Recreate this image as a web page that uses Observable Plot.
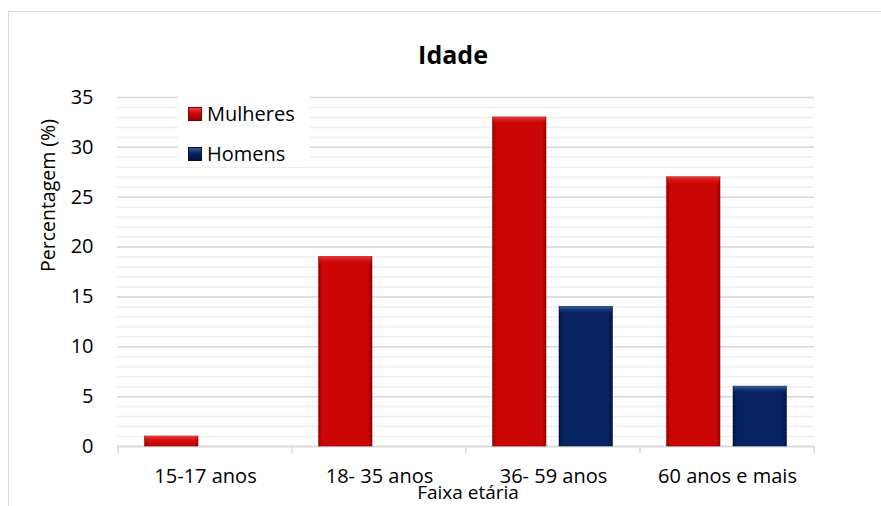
<!DOCTYPE html>
<html>
<head>
<meta charset="utf-8">
<script src="https://cdn.jsdelivr.net/npm/d3@7"></script>
<script src="https://cdn.jsdelivr.net/npm/@observablehq/plot@0.6"></script>
<style>
  html, body { margin: 0; padding: 0; background: #fff; }
  body { width: 881px; height: 506px; overflow: hidden; position: relative; font-family: "Open Sans", sans-serif; }
  #frame { position: absolute; left: 8px; top: 11px; width: 1000px; height: 1000px; border: 1.5px solid #d9d9d9; box-sizing: border-box; }
  #chart { position: absolute; left: 0; top: 0; }
  #legend { position: absolute; left: 178px; top: 94px; width: 132px; height: 73px; background: #fff; }
  .item { position: absolute; left: 10px; display: flex; align-items: center; font-size: 20px; color: #000; line-height: 1; }
  .sw { width: 14px; height: 14px; margin-right: 5px; box-sizing: border-box; }
</style>
</head>
<body>
<div id="frame"></div>
<div id="chart"></div>
<div id="legend">
  <div class="item" style="top:10px"><span class="sw" id="swM"></span><span>Mulheres</span></div>
  <div class="item" style="top:50px"><span class="sw" id="swH"></span><span>Homens</span></div>
</div>
<script>
// ---- data ----
const categorias = ["15-17 anos", "18- 35 anos", "36- 59 anos", "60 anos e mais"];
const series = ["Mulheres", "Homens"];
const mulheres = [1, 19, 33, 27];
const homens = [0, 0, 14, 6];
const yTicksMajor = [0, 5, 10, 15, 20, 25, 30, 35];
const yTicksMinor = d3.range(0, 36, 1);
const titulo = "Idade";
const yLabel = "Percentagem (%)";
const xLabel = "Faixa etária";

// ---- styles ----
const colors = { Mulheres: "#cc0606", Homens: "#062260" };
const edge = { Mulheres: "#7d0000", Homens: "#021033" };
document.getElementById("swM").style.cssText += `background:linear-gradient(#e84040, ${colors.Mulheres} 45%, #9a0000);border:1px solid ${edge.Mulheres}`;
document.getElementById("swH").style.cssText += `background:linear-gradient(#3a5a9a, ${colors.Homens} 45%, #031540);border:1px solid ${edge.Homens}`;

const rows = [];
categorias.forEach((c, i) => {
  rows.push({ cat: c, sexo: "Mulheres", v: mulheres[i] });
  rows.push({ cat: c, sexo: "Homens", v: homens[i] });
});
const dataM = rows.filter(d => d.sexo === "Mulheres" && d.v > 0);
const dataH = rows.filter(d => d.sexo === "Homens" && d.v > 0);

const insM = { insetLeft: 26.5, insetRight: 94 };
const insH = { insetLeft: 93, insetRight: 27.5 };

const font = "Open Sans, sans-serif";

const plot = Plot.plot({
  width: 881,
  height: 506,
  marginLeft: 117,
  marginRight: 67,
  marginTop: 97,
  marginBottom: 60,
  style: { fontFamily: font, fontSize: "20px", color: "#000", background: "transparent" },
  x: { domain: categorias, padding: 0, label: null },
  y: { domain: [0, 35], label: null },
  marks: [
    Plot.gridY({ ticks: yTicksMinor, stroke: "#eeeeee", strokeOpacity: 1, strokeWidth: 1.5 }),
    Plot.gridY({ ticks: yTicksMajor, stroke: "#d9d9d9", strokeOpacity: 1, strokeWidth: 1.5 }),
    Plot.ruleY([0], { stroke: "#d9d9d9", strokeWidth: 1.5 }),
    Plot.axisY({ ticks: yTicksMajor, tickSize: 0, tickPadding: 24, label: null, fontSize: 20 }),
    Plot.axisX({ tickSize: 0, tickPadding: 22, label: null, fontSize: 20 }),
    // bars
    Plot.barY(dataM, { x: "cat", y: "v", fill: "url(#gM)", stroke: edge.Mulheres, strokeOpacity: 0.55, strokeWidth: 1, ...insM }),
    Plot.barY(dataH, { x: "cat", y: "v", fill: "url(#gH)", stroke: edge.Homens, strokeOpacity: 0.55, strokeWidth: 1, ...insH }),
    // top bevel highlight
    Plot.barY(dataM, { x: "cat", y1: "v", y2: "v", insetBottom: -7, fill: "url(#tM)", ...insM, insetLeft: insM.insetLeft + 0.5, insetRight: insM.insetRight + 0.5 }),
    Plot.barY(dataH, { x: "cat", y1: "v", y2: "v", insetBottom: -7, fill: "url(#tH)", ...insH, insetLeft: insH.insetLeft + 0.5, insetRight: insH.insetRight + 0.5 }),
    // title and axis labels
    Plot.text([titulo], { frameAnchor: "top", dx: -13, dy: -42, fontSize: 25, fontWeight: "bold", lineAnchor: "middle" }),
    Plot.text([yLabel], { frameAnchor: "left", dx: -69, rotate: -90, fontSize: 19.5, lineAnchor: "middle" }),
    Plot.text([xLabel], { frameAnchor: "bottom", dx: 2, dy: 46, fontSize: 19, lineAnchor: "middle" })
  ]
});

document.getElementById("chart").appendChild(plot);

// gradients
const svg = d3.select(plot);
const defs = svg.insert("defs", ":first-child");
function sideGrad(id, base, dark) {
  const g = defs.append("linearGradient").attr("id", id).attr("x1", 0).attr("x2", 1).attr("y1", 0).attr("y2", 0);
  g.append("stop").attr("offset", "0%").attr("stop-color", dark);
  g.append("stop").attr("offset", "8%").attr("stop-color", base);
  g.append("stop").attr("offset", "92%").attr("stop-color", base);
  g.append("stop").attr("offset", "100%").attr("stop-color", dark);
}
function topGrad(id, light, base) {
  const g = defs.append("linearGradient").attr("id", id).attr("x1", 0).attr("x2", 0).attr("y1", 0).attr("y2", 1);
  g.append("stop").attr("offset", "0%").attr("stop-color", light);
  g.append("stop").attr("offset", "100%").attr("stop-color", base).attr("stop-opacity", 0.2);
}
sideGrad("gM", colors.Mulheres, "#a00000");
sideGrad("gH", colors.Homens, "#031743");
topGrad("tM", "#f03a3a", colors.Mulheres);
topGrad("tH", "#3b5ea0", colors.Homens);

// category boundary tick marks (from the plot's own x scale)
const xs = plot.scale("x");
const ys = plot.scale("y");
const y0 = ys.apply(0);
const bounds = categorias.map(c => xs.apply(c)).concat([xs.apply(categorias[categorias.length - 1]) + xs.bandwidth]);
svg.append("g").selectAll("line").data(bounds).join("line")
  .attr("x1", d => d).attr("x2", d => d)
  .attr("y1", y0).attr("y2", y0 + 7)
  .attr("stroke", "#d9d9d9").attr("stroke-width", 1.5);
</script>
</body>
</html>
